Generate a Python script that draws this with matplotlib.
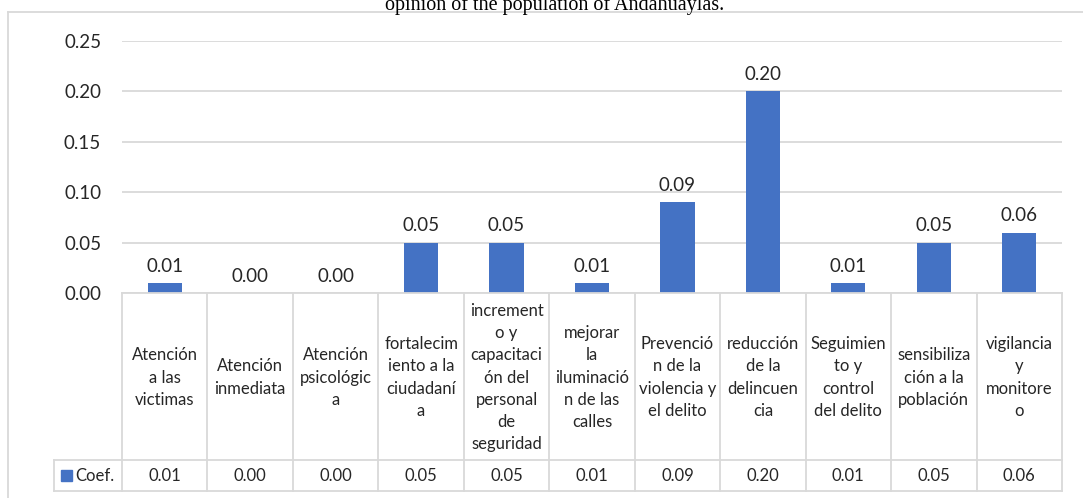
import matplotlib
matplotlib.use("Agg")
import matplotlib.pyplot as plt
from matplotlib.transforms import blended_transform_factory
from matplotlib.patches import Rectangle
from matplotlib.lines import Line2D

categories = [
    "Atención\na las\nvictimas",
    "Atención\ninmediata",
    "Atención\npsicológic\na",
    "fortalecim\niento a la\nciudadaní\na",
    "increment\no y\ncapacitaci\nón del\npersonal\nde\nseguridad",
    "mejorar\nla\niluminació\nn de las\ncalles",
    "Prevenció\nn de la\nviolencia y\nel delito",
    "reducción\nde la\ndelincuen\ncia",
    "Seguimien\nto y\ncontrol\ndel delito",
    "sensibiliza\nción a la\npoblación",
    "vigilancia\ny\nmonitore\no",
]
values = [0.01, 0.00, 0.00, 0.05, 0.05, 0.01, 0.09, 0.20, 0.01, 0.05, 0.06]
series_name = "Coef."
yticks = [0.00, 0.05, 0.10, 0.15, 0.20, 0.25]
title = "opinion of the population of Andahuaylas."

W, H = 1083, 498
fig = plt.figure(figsize=(W / 100, H / 100), dpi=100)
plt.rcParams['font.family'] = ['Lato', 'DejaVu Sans']

BAR = "#4472C4"
GRID = "#D9D9D9"
TXT = "#262626"
FS_AX = 13.5
FS_TB = 12

def fx(px):
    return px / W

def fy(py):
    return 1 - py / H

left, right, top, bottom = 122, 1062, 41, 293
ax = fig.add_axes([fx(left), fy(bottom), fx(right) - fx(left), fy(top) - fy(bottom)])
n = len(categories)
x = list(range(n))
ax.bar(x, values, width=0.4, color=BAR, zorder=3)
ax.set_xlim(-0.5, n - 0.5)
ax.set_ylim(0, 0.25)
ax.set_yticks(yticks)
ax.set_yticklabels([f"{v:.2f}" for v in yticks], fontsize=FS_AX, color=TXT)
ax.tick_params(axis='y', length=0, pad=15)
ax.set_xticks([])
for s in ax.spines.values():
    s.set_visible(False)
ax.grid(axis='y', color=GRID, linewidth=1.3, zorder=0)
ax.set_axisbelow(True)
for xi, v in zip(x, values):
    ax.annotate(f"{v:.2f}", (xi, v), xytext=(0, 6), textcoords='offset points',
                ha='center', va='bottom', fontsize=FS_AX, color=TXT)

# data table
tr = blended_transform_factory(ax.transData, fig.transFigure)
row1_top, row1_bot, row2_bot = 293, 460, 491
leg_left = 54
lw = 1.3
for b in [i - 0.5 for i in range(n + 1)]:
    fig.add_artist(Line2D([b, b], [fy(row1_top), fy(row2_bot)], transform=tr,
                          color=GRID, lw=lw, clip_on=False))
fig.add_artist(Line2D([-0.5, n - 0.5], [fy(row1_top)] * 2, transform=tr, color=GRID, lw=lw))
for yy in (row1_bot, row2_bot):
    fig.add_artist(Line2D([fx(leg_left), fx(right)], [fy(yy)] * 2,
                          transform=fig.transFigure, color=GRID, lw=lw))
fig.add_artist(Line2D([fx(leg_left)] * 2, [fy(row1_bot), fy(row2_bot)],
                      transform=fig.transFigure, color=GRID, lw=lw))
for xi, c, v in zip(x, categories, values):
    fig.text(xi, fy((row1_top + row1_bot) / 2 + 1), c, transform=tr, ha='center', va='center',
             fontsize=FS_TB, color=TXT, linespacing=1.48)
    fig.text(xi, fy((row1_bot + row2_bot) / 2), f"{v:.2f}", transform=tr, ha='center',
             va='center', fontsize=FS_TB, color=TXT)
fig.add_artist(Rectangle((fx(61), fy(481)), fx(11), 11 / H, transform=fig.transFigure,
                         color=BAR))
fig.text(fx(75), fy((row1_bot + row2_bot) / 2), series_name, ha='left', va='center',
         fontsize=FS_TB, color=TXT)

# chart border
fig.add_artist(Line2D([fx(8), fx(W)], [fy(12)] * 2, transform=fig.transFigure, color=GRID, lw=1.3))
fig.add_artist(Line2D([fx(8)] * 2, [fy(12), 0], transform=fig.transFigure, color=GRID, lw=1.3))

# title (cropped at top, as in the reference)
fig.text(fx(555), fy(10), title, ha='center', va='baseline', fontsize=14.5,
         family=['Liberation Serif', 'DejaVu Serif'], color='black')

fig.savefig("out.png", dpi=100)
